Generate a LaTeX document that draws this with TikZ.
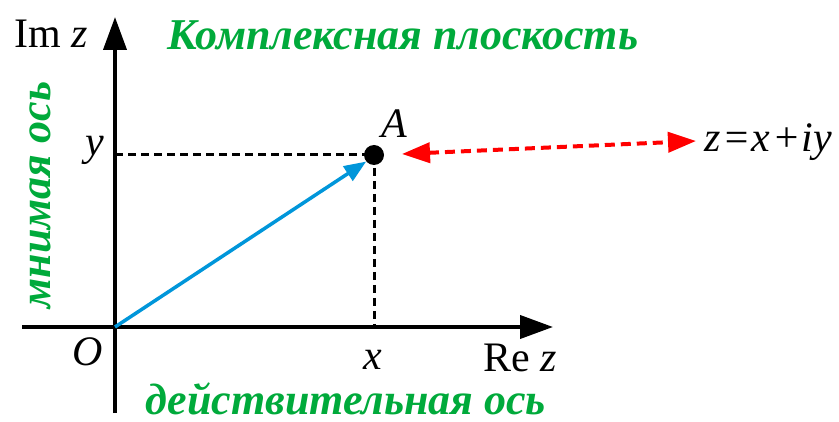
\documentclass[tikz,border=0pt]{standalone}
\usepackage{fontspec}
\setmainfont{LiberationSerif}[Extension=.ttf,UprightFont=*-Regular,ItalicFont=*-Italic,BoldFont=*-Bold,BoldItalicFont=*-BoldItalic]
\usetikzlibrary{arrows.meta}
\definecolor{grn}{RGB}{0,170,59}
\definecolor{blu}{RGB}{0,150,218}
\definecolor{rd}{RGB}{255,0,0}
\tikzset{
  axis/.style={line width=4pt,-{Triangle[length=33pt,width=23pt]}},
  guide/.style={line width=3pt,dash pattern=on 8pt off 5pt},
  vec/.style={line width=3.5pt,blu,-{Triangle[length=22pt,width=17pt]}},
  rel/.style={line width=4pt,rd,dash pattern=on 10pt off 6pt,{Triangle[length=28pt,width=20pt]}-{Triangle[length=28pt,width=20pt]}},
  lbl/.style={font=\fontsize{42}{46}\selectfont\itshape,inner sep=0pt},
  rlbl/.style={font=\fontsize{42}{46}\selectfont,inner sep=0pt},
  gtxt/.style={font=\fontsize{44}{48}\selectfont\bfseries\itshape,text=grn,inner sep=0pt}
}
\begin{document}
\begin{tikzpicture}[x=1pt,y=-1pt]
\useasboundingbox[fill=white] (0,0) rectangle (839,422);
\coordinate (o) at (115,327);
\coordinate (ytop) at (115,17);
\coordinate (ybot) at (115,413);
\coordinate (xl) at (22,327);
\coordinate (xr) at (553,327);
\coordinate (yp) at (115,155);
\coordinate (xp) at (374,327);
\node[circle,fill=black,minimum size=20pt,inner sep=0pt] (A) at (374,155) {};
\draw[guide] (yp) -- (A.center);
\draw[guide] (A.center) -- (xp);
\draw[line width=4pt] (ybot) -- (o);
\draw[axis] (o) -- (ytop);
\draw[axis] (xl) -- (xr);
\draw[vec] (o) -- (A.220);
\coordinate (rl) at (402,154);
\coordinate (rr) at (696,141);
\draw[rel] (rl) -- (rr);
\node[lbl] (Al) at (394,124) {A};
\node[lbl] (yl) at (95,150) {y};
\node[lbl] (xlab) at (373,360) {x};
\node[lbl] (Ol) at (88,352) {O};
\node[rlbl,anchor=base] (Re) at (520,372) {Re \textit{z}};
\node[rlbl,anchor=base] (Im) at (51,48) {Im \textit{z}};
\node[lbl,anchor=base west] (zeq) at (704,152) {z\kern1.5pt=\kern1.5pt x\kern1.5pt+\kern1.5pt iy};
\node[gtxt,anchor=base] (title) at (403,50) {Комплексная плоскость};
\node[gtxt,anchor=base,rotate=90] (im) at (50,195) {мнимая ось};
\node[gtxt,anchor=base] (re) at (346,414) {действительная ось};
\end{tikzpicture}
\end{document}
